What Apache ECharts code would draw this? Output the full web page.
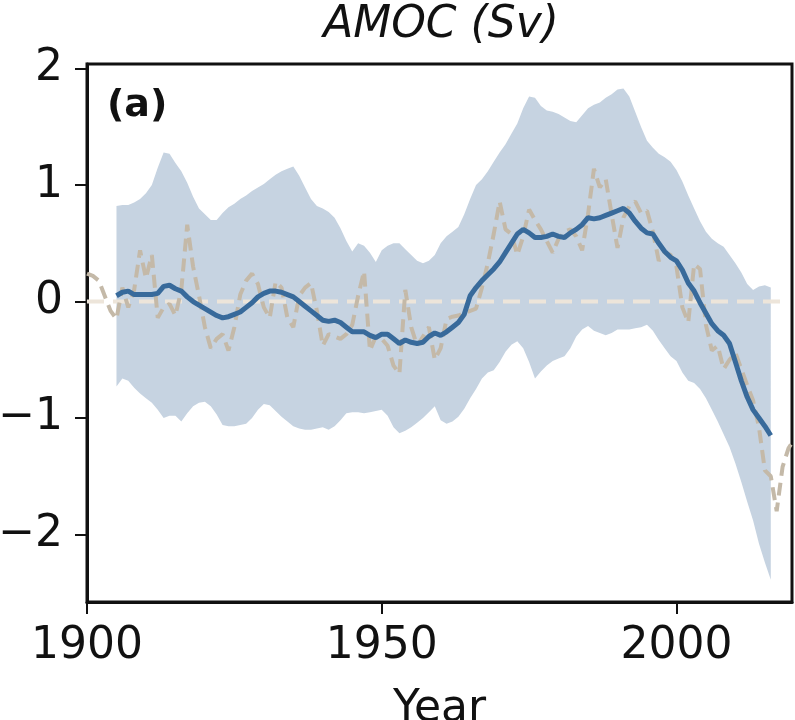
<!DOCTYPE html>
<html>
<head>
<meta charset="utf-8">
<script src="https://cdn.jsdelivr.net/npm/echarts@6/dist/echarts.min.js"></script>
<style>
  html, body { margin: 0; padding: 0; background: #fff; }
  #main { width: 795px; height: 720px; }
</style>
</head>
<body>
<div id="main"></div>
<script>
// smoothed ensemble mean and its spread, 1905-2016
var bandStart = 1905;
var meanLine = [
  0.05, 0.08, 0.09, 0.06, 0.06, 0.06, 0.06, 0.07, 0.13, 0.14,
  0.11, 0.09, 0.04, 0.00, -0.03, -0.06, -0.09, -0.12, -0.14, -0.13,
  -0.11, -0.09, -0.05, -0.01, 0.04, 0.07, 0.09, 0.09, 0.08, 0.06,
  0.04, 0.00, -0.04, -0.08, -0.12, -0.16, -0.17, -0.16, -0.18, -0.22,
  -0.26, -0.26, -0.26, -0.29, -0.31, -0.28, -0.28, -0.32, -0.36, -0.33,
  -0.35, -0.36, -0.35, -0.30, -0.27, -0.29, -0.26, -0.22, -0.18, -0.11,
  0.05, 0.12, 0.18, 0.23, 0.28, 0.34, 0.42, 0.50, 0.58, 0.62,
  0.59, 0.55, 0.55, 0.56, 0.58, 0.56, 0.55, 0.59, 0.62, 0.66,
  0.72, 0.71, 0.72, 0.74, 0.76, 0.78, 0.80, 0.76, 0.69, 0.63,
  0.59, 0.58, 0.50, 0.43, 0.38, 0.35, 0.27, 0.16, 0.09, -0.01,
  -0.10, -0.19, -0.25, -0.29, -0.36, -0.52, -0.68, -0.82, -0.93, -1.00,
  -1.07, -1.15
];
var upperBound = [
  0.82, 0.83, 0.83, 0.85, 0.88, 0.93, 1.00, 1.15, 1.28, 1.27,
  1.19, 1.12, 1.02, 0.90, 0.80, 0.75, 0.70, 0.70, 0.76, 0.81,
  0.84, 0.88, 0.91, 0.95, 0.98, 1.01, 1.05, 1.09, 1.12, 1.14,
  1.16, 1.08, 0.98, 0.88, 0.82, 0.80, 0.77, 0.72, 0.63, 0.52,
  0.43, 0.50, 0.48, 0.42, 0.34, 0.44, 0.48, 0.50, 0.50, 0.45,
  0.40, 0.35, 0.33, 0.35, 0.40, 0.50, 0.56, 0.60, 0.64, 0.75,
  0.88, 1.00, 1.05, 1.12, 1.20, 1.28, 1.35, 1.44, 1.53, 1.66,
  1.76, 1.75, 1.68, 1.64, 1.63, 1.61, 1.58, 1.55, 1.54, 1.60,
  1.66, 1.69, 1.71, 1.75, 1.78, 1.82, 1.83, 1.76, 1.63, 1.50,
  1.38, 1.32, 1.27, 1.24, 1.20, 1.13, 1.03, 0.91, 0.80, 0.69,
  0.60, 0.54, 0.50, 0.47, 0.40, 0.33, 0.25, 0.15, 0.10, 0.13,
  0.14, 0.12
];
var lowerBound = [
  -0.73, -0.66, -0.68, -0.74, -0.79, -0.83, -0.87, -0.93, -1.00, -0.98,
  -0.98, -1.03, -0.96, -0.90, -0.87, -0.86, -0.90, -0.97, -1.06, -1.07,
  -1.07, -1.06, -1.05, -1.00, -0.93, -0.88, -0.89, -0.94, -0.99, -1.03,
  -1.07, -1.09, -1.10, -1.10, -1.09, -1.08, -1.10, -1.07, -1.02, -0.96,
  -0.95, -0.95, -0.96, -0.95, -0.94, -0.93, -0.98, -1.08, -1.13, -1.11,
  -1.08, -1.04, -1.00, -0.95, -0.90, -1.02, -1.05, -1.03, -0.99, -0.92,
  -0.83, -0.75, -0.66, -0.61, -0.59, -0.52, -0.43, -0.37, -0.34, -0.40,
  -0.52, -0.66, -0.60, -0.55, -0.51, -0.49, -0.47, -0.40, -0.30, -0.24,
  -0.21, -0.25, -0.27, -0.29, -0.27, -0.24, -0.24, -0.24, -0.23, -0.22,
  -0.20, -0.25, -0.33, -0.40, -0.47, -0.51, -0.61, -0.68, -0.70, -0.75,
  -0.83, -0.93, -1.03, -1.14, -1.25, -1.39, -1.55, -1.72, -1.88, -2.08,
  -2.24, -2.39
];

// annual index, 1900-2020
var annualStart = 1900;
var annualLine = [
  0.24, 0.22, 0.18, 0.05, -0.08, -0.15, 0.12, -0.05, 0.10, 0.44,
  0.20, 0.40, -0.14, -0.05, -0.02, -0.12, 0.10, 0.66, 0.30, 0.05,
  -0.22, -0.40, -0.32, -0.28, -0.42, -0.22, 0.06, 0.18, 0.24, 0.15,
  -0.05, -0.14, 0.17, 0.12, -0.14, -0.22, 0.05, 0.12, 0.16, -0.08,
  -0.38, -0.28, -0.30, -0.32, -0.28, -0.20, 0.05, 0.26, -0.42, -0.30,
  -0.32, -0.38, -0.55, -0.62, 0.10, -0.22, -0.38, -0.30, -0.22, -0.50,
  -0.40, -0.15, -0.13, -0.12, -0.10, -0.08, -0.06, 0.12, 0.33, 0.58,
  0.86, 0.62, 0.58, 0.40, 0.56, 0.79, 0.70, 0.62, 0.52, 0.42,
  0.54, 0.60, 0.62, 0.56, 0.44, 0.75, 1.14, 0.98, 1.05, 0.75,
  0.46, 0.72, 0.82, 0.86, 0.76, 0.78, 0.60, 0.35, 0.42, 0.40,
  0.30, -0.05, -0.18, 0.32, 0.28, -0.20, -0.42, -0.38, -0.58, -0.50,
  -0.44, -0.58, -0.72, -0.85, -1.08, -1.45, -1.50, -1.80, -1.42, -1.26,
  -1.18
];

var zeroYears = [1900, 2018];
var zeroValues = [0, 0];

var xTicks = [1900, 1950, 2000];
var yTicks = [-2, -1, 0, 1, 2];

var FONT = 'DejaVu Sans';

function pairs(start, arr) {
  return arr.map(function (v, i) { return [start + i, v]; });
}

// one row per year: [year, lower, upper]
var bandRows = upperBound.map(function (v, i) {
  return [bandStart + i, lowerBound[i], v];
});

var chart = echarts.init(document.getElementById('main'), null, { renderer: 'canvas' });

var option = {
  animation: false,
  backgroundColor: '#fff',
  grid: {
    left: 87, right: 3, top: 64, bottom: 118,
    outerBoundsMode: 'none',
    containLabel: false,
    show: true, borderColor: '#111', borderWidth: 3, backgroundColor: 'transparent'
  },
  graphic: [
    {
      type: 'text', x: 441, y: 26, z: 10,
      style: {
        text: 'AMOC (Sv)', fill: '#111', font: 'italic 44px "DejaVu Sans"',
        align: 'center', verticalAlign: 'middle'
      }
    },
    {
      type: 'text', x: 107, y: 87, z: 10,
      style: {
        text: '(a)', fill: '#111', font: 'bold 38px "DejaVu Sans"',
        align: 'left', verticalAlign: 'top'
      }
    }
  ],
  xAxis: {
    type: 'value',
    min: 1900,
    max: 2019.6,
    splitLine: { show: false },
    axisLine: { show: true, onZero: false, lineStyle: { color: '#111', width: 3 } },
    axisTick: { show: true, length: 12, lineStyle: { color: '#111', width: 2 }, customValues: xTicks },
    axisLabel: {
      color: '#111', fontSize: 44, fontFamily: FONT, margin: 23,
      customValues: xTicks,
      formatter: function (v) { return String(v); }
    },
    name: 'Year',
    nameLocation: 'middle',
    nameGap: 86,
    nameTextStyle: { color: '#111', fontSize: 44, fontFamily: FONT }
  },
  yAxis: {
    type: 'value',
    min: -2.58,
    max: 2.04,
    splitLine: { show: false },
    axisLine: { show: true, onZero: false, lineStyle: { color: '#111', width: 3 } },
    axisTick: { show: true, length: 12, lineStyle: { color: '#111', width: 2 }, customValues: yTicks },
    axisLabel: {
      color: '#111', fontSize: 44, fontFamily: FONT, margin: 24,
      customValues: yTicks,
      formatter: function (v) { return String(v).replace('-', '\u2212'); }
    }
  },
  series: [
    {
      name: 'spread',
      type: 'custom',
      data: bandRows,
      encode: { x: 0, y: [1, 2] },
      z: 1,
      renderItem: function (params, api) {
        if (params.dataIndex !== 0) return null;
        var top = [], bottom = [];
        for (var i = 0; i < bandRows.length; i++) {
          top.push(api.coord([bandRows[i][0], bandRows[i][2]]));
          bottom.push(api.coord([bandRows[i][0], bandRows[i][1]]));
        }
        return {
          type: 'polygon',
          shape: { points: top.concat(bottom.reverse()) },
          style: { fill: '#c6d3e1' },
          silent: true
        };
      }
    },
    {
      name: 'zero',
      type: 'line',
      symbol: 'none',
      lineStyle: { color: '#ede5da', width: 4, type: [17, 9] },
      data: zeroYears.map(function (y, i) { return [y, zeroValues[i]]; }),
      z: 2
    },
    {
      name: 'annual',
      type: 'line',
      symbol: 'none',
      lineStyle: { color: '#c4b9a8', width: 4, type: [13, 7] },
      data: pairs(annualStart, annualLine),
      z: 3
    },
    {
      name: 'mean',
      type: 'line',
      symbol: 'none',
      lineStyle: { color: '#386a9b', width: 5 },
      data: pairs(bandStart, meanLine),
      z: 4
    }
  ]
};

chart.setOption(option);
</script>
</body>
</html>
